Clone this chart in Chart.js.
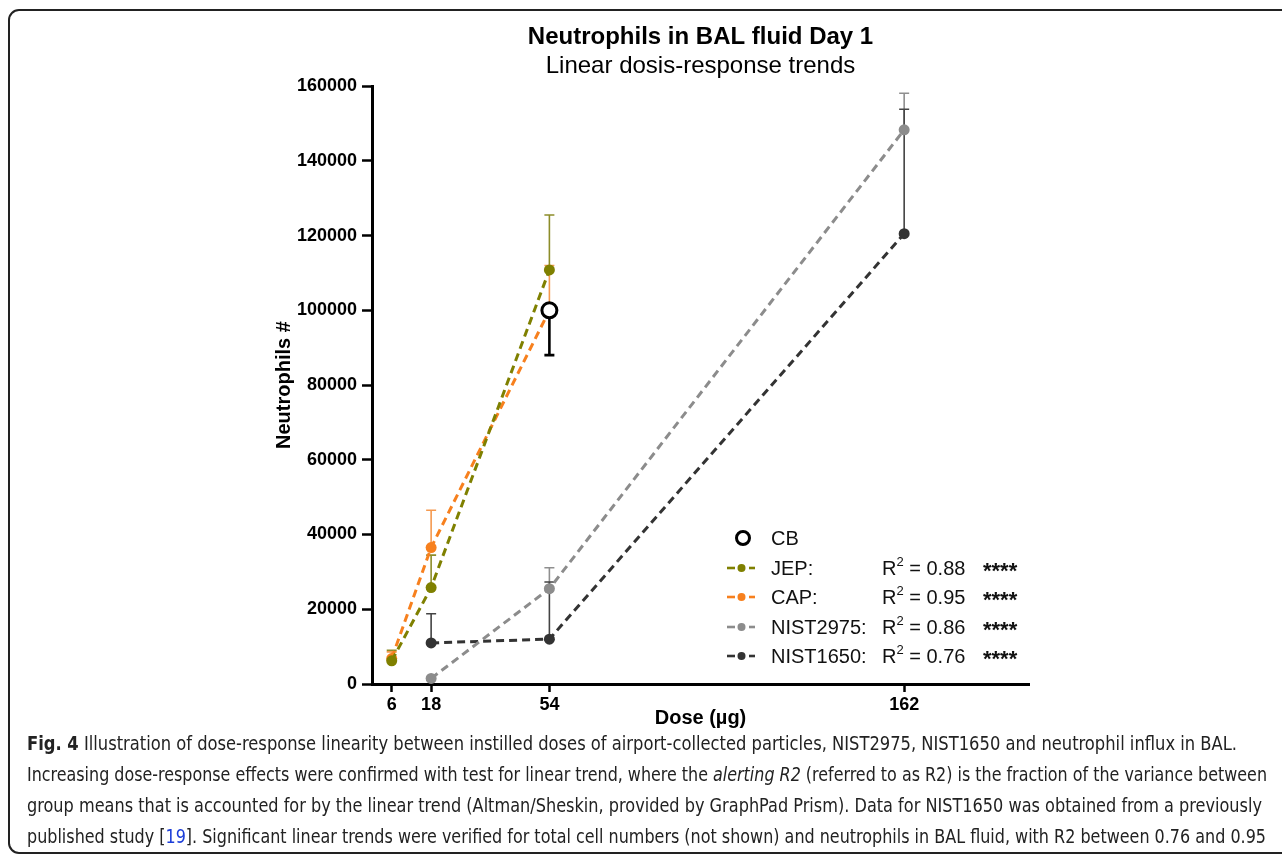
<!DOCTYPE html>
<html><head><meta charset="utf-8">
<script src="https://cdn.jsdelivr.net/npm/chart.js@4.4.1/dist/chart.umd.min.js"></script>
<style>
html,body{margin:0;padding:0;background:#fff;width:1282px;height:854px;overflow:hidden;}
#frame{position:absolute;left:8px;top:9px;width:1300px;height:841px;border:2px solid #222;border-radius:11px;}
#wrap{position:absolute;left:0;top:0;width:1282px;height:730px;}
#legend{position:absolute;left:0;top:0;width:1282px;height:730px;font-family:"Liberation Sans",Arial,sans-serif;font-size:20px;color:#111;pointer-events:none;}
.cell{position:absolute;white-space:nowrap;line-height:24px;}
.stars{font-weight:bold;font-size:22px;}
#caption{position:absolute;left:27px;top:728px;font-family:"Liberation Sans Narrow","DejaVu Sans Condensed","Liberation Sans",sans-serif;font-size:19px;line-height:31px;color:#222;}
.line{white-space:nowrap;transform-origin:0 50%;height:31px;}
.line a{color:#1a3cd8;text-decoration:none;}
</style></head>
<body>
<div id="frame"></div>
<div id="wrap"><canvas id="c" width="1282" height="730"></canvas></div>
<div id="legend"></div>
<div id="caption">
<div class="line"><b>Fig. 4</b> Illustration of dose-response linearity between instilled doses of airport-collected particles, NIST2975, NIST1650 and neutrophil influx in BAL.</div>
<div class="line">Increasing dose-response effects were confirmed with test for linear trend, where the <i>alerting R2</i> (referred to as R2) is the fraction of the variance between</div>
<div class="line">group means that is accounted for by the linear trend (Altman/Sheskin, provided by GraphPad Prism). Data for NIST1650 was obtained from a previously</div>
<div class="line">published study [<a>19</a>]. Significant linear trends were verified for total cell numbers (not shown) and neutrophils in BAL fluid, with R2 between 0.76 and 0.95</div>
</div>
<script>
// ---- data ----
const xTicks = [6, 18, 54, 162];
const cbDose = [54];
const cbMean = [100000];
const cbErrDown = [12000];
const jepDose = [6, 18, 54];
const jepMean = [6200, 25800, 110800];
const jepErr = [2800, 8700, 14700];
const capDose = [6, 18, 54];
const capMean = [6800, 36500, 100000];
const capErr = [1800, 10000, 12000];
const n2975Dose = [18, 54, 162];
const n2975Mean = [1500, 25500, 148300];
const n2975Err = [0, 5600, 9800];
const n1650Dose = [18, 54, 162];
const n1650Mean = [11000, 12000, 120500];
const n1650Err = [7800, 15300, 33300];
const legendNames = ['CB', 'JEP:', 'CAP:', 'NIST2975:', 'NIST1650:'];
const r2Values = ['', '0.88', '0.95', '0.86', '0.76'];
const legendStars = ['', '****', '****', '****', '****'];

const colors = ['#000000', '#7f8000', '#f7801e', '#8c8c8c', '#333333'];
const errColors = ['#000000', '#8d8d2a', '#f59a50', '#8f8f8f', '#444444'];

const pts = (xs, ys) => xs.map((x, i) => ({x: x, y: ys[i]}));

function lineSet(label, xs, ys, errs, idx) {
  return {
    label: label, data: pts(xs, ys), showLine: true,
    borderColor: colors[idx], backgroundColor: colors[idx],
    borderWidth: 3, borderDash: [8, 5],
    pointRadius: 5.5, pointBorderWidth: 0, pointHoverRadius: 5.5,
    errUp: errs, errDown: null, errColor: errColors[idx], errWidth: 1.6
  };
}

const datasets = [
  { label: 'CB', data: pts(cbDose, cbMean), showLine: false,
    borderColor: '#000', backgroundColor: '#ffffff', pointRadius: 7.5, pointBorderWidth: 3,
    errUp: null, errDown: cbErrDown, errColor: '#000', errWidth: 2.6 },
  lineSet('JEP', jepDose, jepMean, jepErr, 1),
  lineSet('CAP', capDose, capMean, capErr, 2),
  lineSet('NIST2975', n2975Dose, n2975Mean, n2975Err, 3),
  lineSet('NIST1650', n1650Dose, n1650Mean, n1650Err, 4)
];

const errorBars = {
  id: 'errorBars',
  beforeDatasetsDraw(chart) {
    const ctx = chart.ctx, xs = chart.scales.x, ys = chart.scales.y;
    chart.data.datasets.forEach(ds => {
      ds.data.forEach((p, i) => {
        const px = xs.getPixelForValue(p.x);
        const py = ys.getPixelForValue(p.y);
        const draw = (v) => {
          const ey = ys.getPixelForValue(v);
          ctx.save();
          ctx.strokeStyle = ds.errColor; ctx.lineWidth = ds.errWidth;
          ctx.beginPath();
          ctx.moveTo(px, py); ctx.lineTo(px, ey);
          ctx.moveTo(px - 5, ey); ctx.lineTo(px + 5, ey);
          ctx.stroke(); ctx.restore();
        };
        if (ds.errUp && ds.errUp[i]) draw(p.y + ds.errUp[i]);
        if (ds.errDown && ds.errDown[i]) draw(p.y - ds.errDown[i]);
      });
    });
  }
};

const tickFont = {family: '"Liberation Sans", Arial, sans-serif', size: 18, weight: 'bold'};

new Chart(document.getElementById('c'), {
  type: 'scatter',
  data: { datasets: datasets },
  options: {
    responsive: false, animation: false,
    layout: { padding: { left: 262, right: 253, top: 10, bottom: 0 } },
    plugins: {
      legend: { display: false }, tooltip: { enabled: false },
      title: { display: true, fullSize: false, text: 'Neutrophils in BAL fluid Day 1', color: '#000',
        font: {family: '"Liberation Sans", Arial, sans-serif', size: 24, weight: 'bold'},
        padding: { top: 13, bottom: 0 } },
      subtitle: { display: true, fullSize: false, text: 'Linear dosis-response trends', color: '#000',
        font: {family: '"Liberation Sans", Arial, sans-serif', size: 24, weight: 'normal'},
        padding: { top: 0, bottom: 5.5 } }
    },
    scales: {
      x: {
        type: 'linear', min: 0, max: 200,
        afterBuildTicks: s => { s.ticks = xTicks.map(v => ({value: v})); },
        afterFit: s => { s.height = 46; },
        border: { color: '#000', width: 3 },
        grid: { drawOnChartArea: false, drawTicks: true, tickLength: 8, color: '#000', tickWidth: 2.5 },
        ticks: { color: '#000', font: tickFont, padding: 2, autoSkip: false, maxRotation: 0 },
        title: { display: true, text: 'Dose (\u00b5g)', color: '#000', padding: 0,
          font: {family: '"Liberation Sans", Arial, sans-serif', size: 20, weight: 'bold'} }
      },
      y: {
        min: 0, max: 160000,
        afterFit: s => { s.width = 110; },
        border: { color: '#000', width: 3 },
        grid: { drawOnChartArea: false, drawTicks: true, tickLength: 10, color: '#000', tickWidth: 2.5 },
        ticks: { stepSize: 20000, color: '#000', font: tickFont, padding: 5, callback: v => String(v) },
        title: { display: true, text: 'Neutrophils #', color: '#000', padding: { top: 10, bottom: 0 },
          font: {family: '"Liberation Sans", Arial, sans-serif', size: 20, weight: 'bold'} }
      }
    }
  },
  plugins: [errorBars]
});

// ---- legend (HTML) ----
const leg = document.getElementById('legend');
const rowY = [538, 568, 597, 627, 656];
legendNames.forEach((name, i) => {
  const y = rowY[i];
  let marker;
  if (i === 0) {
    marker = `<svg width="20" height="20" style="position:absolute;left:733px;top:${y-10}px"><circle cx="10" cy="10" r="6.5" fill="none" stroke="#000" stroke-width="3"/></svg>`;
  } else {
    const c = colors[i];
    marker = `<svg width="32" height="12" style="position:absolute;left:726px;top:${y-6}px"><line x1="1" y1="6" x2="9" y2="6" stroke="${c}" stroke-width="2.6"/><line x1="23" y1="6" x2="29" y2="6" stroke="${c}" stroke-width="2.6"/><circle cx="15.5" cy="6" r="4" fill="${c}"/></svg>`;
  }
  let html = marker + `<span class="cell" style="left:771px;top:${y-12}px">${name}</span>`;
  if (r2Values[i]) {
    html += `<span class="cell" style="left:882px;top:${y-12}px">R<sup style="font-size:13px;vertical-align:9px;line-height:0">2</sup> = ${r2Values[i]}</span>`;
    html += `<span class="cell stars" style="left:983px;top:${y-9}px">${legendStars[i]}</span>`;
  }
  leg.insertAdjacentHTML('beforeend', html);
});

// ---- caption width fitting ----
const targets = [1210, 1240, 1235, 1239];
document.querySelectorAll('#caption .line').forEach((el, i) => {
  el.style.display = 'inline-block';
  const w = el.getBoundingClientRect().width;
  el.style.display = 'block';
  el.style.transform = `scaleX(${targets[i] / w})`;
});
</script>
</body></html>
